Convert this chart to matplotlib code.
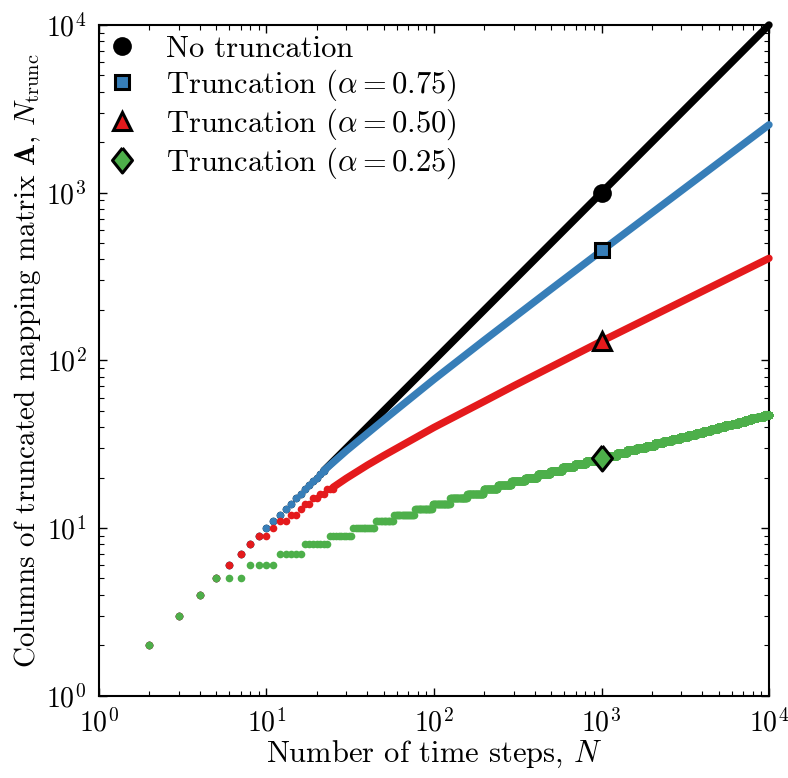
import numpy as np
import matplotlib.pyplot as plt
from matplotlib.lines import Line2D

plt.rcParams.update({
    'font.family': 'serif',
    'font.serif': ['cmr10'],
    'mathtext.fontset': 'cm',
    'axes.unicode_minus': False,
    'axes.formatter.use_mathtext': True,
})

# step tables for the discrete dots: value and first N at which it appears
black_levels = [2, 3, 4, 5, 6, 7, 8, 9, 10, 11, 12, 13, 14, 15, 16, 17, 18, 19, 20, 21, 22]
black_starts = [2, 3, 4, 5, 6, 7, 8, 9, 10, 11, 12, 13, 14, 15, 16, 17, 18, 19, 20, 21, 22]
black_end = 22
black_line_n = [22, 10000]
black_line_v = [22, 10000]

blue_levels = [2, 3, 4, 5, 6, 7, 8, 9, 10, 11, 12, 13, 14, 15, 16, 17, 18, 19, 20, 21, 22]
blue_starts = [2, 3, 4, 5, 6, 7, 8, 9, 10, 11, 12, 13, 14, 15, 16, 17, 18, 19, 20, 21, 22]
blue_end = 22
blue_line_n = [22, 30, 50, 100, 200, 300, 500, 1000, 10000]
blue_line_v = [22, 28.9, 44, 77, 132, 180, 266, 450, 2540]

red_levels = [2, 3, 4, 5, 6, 7, 8, 9, 10, 11, 12, 13, 14, 15, 16, 17]
red_starts = [2, 3, 4, 5, 6, 7, 8, 9, 11, 12, 14, 16, 17, 19, 21, 23]
red_end = 25
red_line_n = [25, 30, 40, 50, 70, 100, 200, 300, 1000, 10000]
red_line_v = [17.5, 19.8, 23.7, 27, 32.6, 39.8, 57, 70.5, 130, 406]

green_levels = list(range(2, 48))
green_starts = [2, 3, 4, 5, 8, 12, 17, 24, 33, 45, 58, 77, 98, 125, 158, 198,
                240, 290, 350, 415, 495, 585, 690, 805, 935, 1075, 1237, 1417,
                1615, 1834, 2074, 2337, 2624, 2938, 3278, 3647, 4046, 4477,
                4942, 5442, 5979, 6555, 7171, 7830, 8534, 9283]
green_end = 10000

mark_n = 1000
mark_v = [1000, 455, 130, 26]

labels = ['No truncation', r'Truncation ($\alpha = 0.75$)',
          r'Truncation ($\alpha = 0.50$)', r'Truncation ($\alpha = 0.25$)']
colors = ['#000000', '#377eb8', '#e41a1c', '#4daf4a']


def expand(levels, starts, end):
    n, v = [], []
    for i, lev in enumerate(levels):
        stop = starts[i + 1] if i + 1 < len(starts) else end + 1
        for k in range(starts[i], stop):
            n.append(k)
            v.append(lev)
    return n, v


diamond = [(0, 1), (0.8, 0), (0, -1), (-0.8, 0), (0, 1)]
markers = [('o', 13.5, 0), ('s', 10, 2.2), ('^', 12.5, 2.2), (diamond, 18, 2.2)]

fig = plt.figure(figsize=(7.88, 7.78), dpi=100)
ax = fig.add_axes([0.1256, 0.1058, 0.8503, 0.8621])
ax.set_xscale('log')
ax.set_yscale('log')

series = [
    (black_levels, black_starts, black_end, black_line_n, black_line_v),
    (blue_levels, blue_starts, blue_end, blue_line_n, blue_line_v),
    (red_levels, red_starts, red_end, red_line_n, red_line_v),
    (green_levels, green_starts, green_end, None, None),
]
for i, (lev, st, end, ln, lv) in enumerate(series):
    n, v = expand(lev, st, end)
    ax.plot(n, v, 'o', color=colors[i], ms=5.5, mec='none', zorder=2 + i, clip_on=False)
    if ln is not None:
        ax.plot(ln, lv, '-', color=colors[i], lw=5.3, solid_capstyle='round',
                solid_joinstyle='round', zorder=2 + i, clip_on=False)

handles = []
for i, (m, ms, mew) in enumerate(markers):
    ax.plot([mark_n], [mark_v[i]], linestyle='none', marker=m, ms=ms,
            mfc=colors[i], mec='black', mew=mew, zorder=10)
    handles.append(Line2D([], [], linestyle='none', marker=m, ms=ms,
                          mfc=colors[i], mec='black', mew=mew))

ax.set_xlim(1, 1e4)
ax.set_ylim(1, 1e4)
ax.tick_params(which='both', direction='in', top=True, right=True, labelsize=20, pad=9)
ax.tick_params(which='major', length=6, width=1.0)
ax.tick_params(which='minor', length=3.5, width=0.8)
for s in ax.spines.values():
    s.set_linewidth(1.5)

ax.set_xlabel(r'Number of time steps, $N$', fontsize=22, labelpad=1)
ax.set_ylabel(r'Columns of truncated mapping matrix $\mathbf{A}$, $N_\mathrm{trunc}$',
              fontsize=21, labelpad=2)

ax.legend(handles, labels, loc='upper left', frameon=False, fontsize=22,
          handlelength=0.8, handletextpad=1.05, labelspacing=0.13,
          borderaxespad=0.25, borderpad=0.1)

fig.savefig('out.png', dpi=100)
